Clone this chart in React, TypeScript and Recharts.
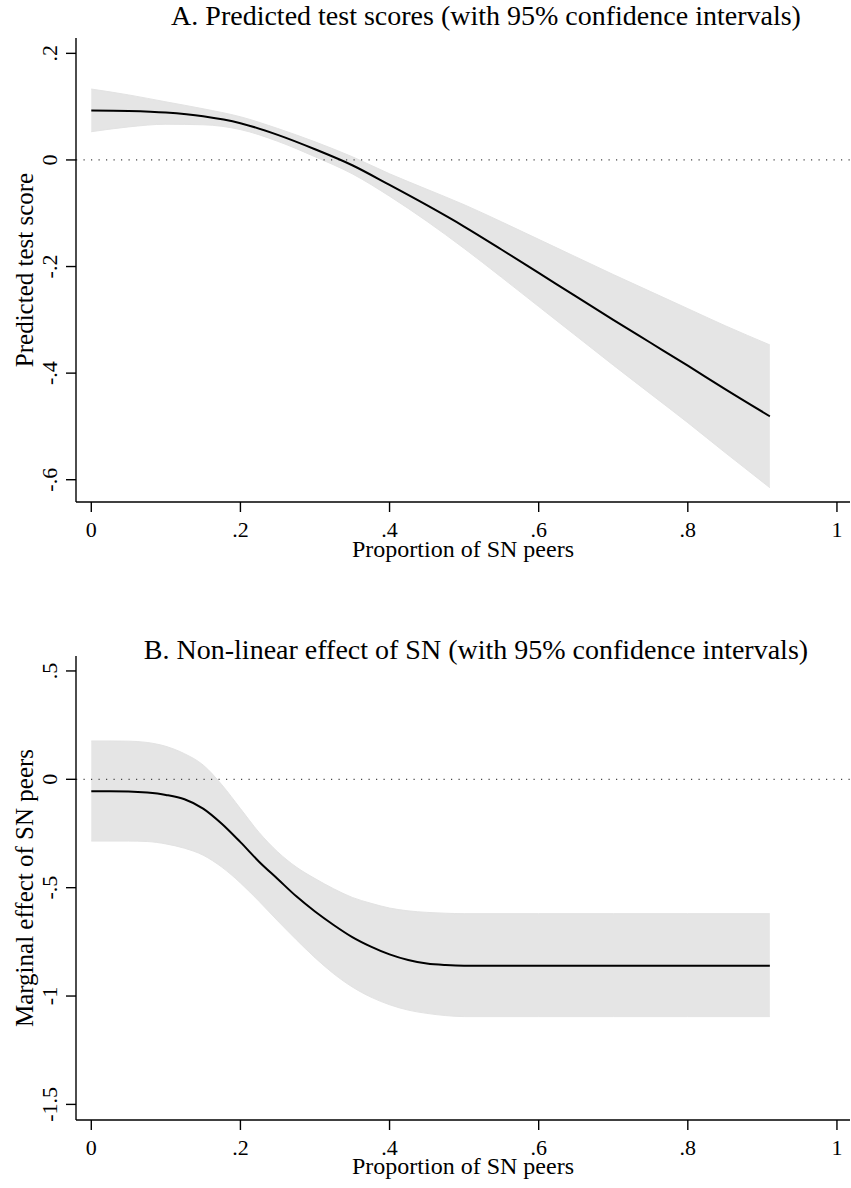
import React from "react";
import { ComposedChart, Area, Line, XAxis, YAxis, ReferenceLine, Label } from "recharts";

// Panel A: predicted test scores
const xA = [0, 0.05, 0.1, 0.15, 0.2, 0.25, 0.3, 0.35, 0.4, 0.45, 0.5, 0.55, 0.6, 0.65, 0.7, 0.75, 0.8, 0.85, 0.91];
const fitA = [0.093, 0.092, 0.089, 0.082, 0.069, 0.047, 0.02, -0.01, -0.047, -0.085, -0.125, -0.168, -0.212, -0.256, -0.3, -0.343, -0.386, -0.43, -0.481];
const upperA = [0.133, 0.122, 0.109, 0.096, 0.081, 0.059, 0.034, 0.006, -0.026, -0.055, -0.084, -0.116, -0.149, -0.182, -0.215, -0.247, -0.279, -0.311, -0.347];
const lowerA = [0.053, 0.062, 0.067, 0.066, 0.057, 0.035, 0.006, -0.026, -0.068, -0.115, -0.166, -0.22, -0.275, -0.33, -0.385, -0.439, -0.493, -0.549, -0.615];

// Panel B: marginal effect
const xB = [0, 0.025, 0.05, 0.075, 0.1, 0.125, 0.15, 0.175, 0.2, 0.225, 0.25, 0.275, 0.3, 0.325, 0.35, 0.375, 0.4, 0.425, 0.45, 0.475, 0.5, 0.6, 0.7, 0.8, 0.91];
const fitB = [-0.055, -0.055, -0.056, -0.061, -0.072, -0.092, -0.135, -0.205, -0.29, -0.38, -0.46, -0.54, -0.61, -0.672, -0.728, -0.772, -0.808, -0.834, -0.85, -0.857, -0.86, -0.86, -0.86, -0.86, -0.86];
const upperB = [0.177, 0.177, 0.176, 0.17, 0.152, 0.118, 0.066, -0.025, -0.135, -0.245, -0.335, -0.405, -0.458, -0.505, -0.545, -0.572, -0.594, -0.607, -0.614, -0.618, -0.62, -0.62, -0.62, -0.62, -0.62];
const lowerB = [-0.285, -0.285, -0.285, -0.287, -0.298, -0.318, -0.35, -0.405, -0.478, -0.563, -0.653, -0.74, -0.823, -0.897, -0.958, -1.005, -1.04, -1.065, -1.08, -1.09, -1.095, -1.095, -1.095, -1.095, -1.095];

const xTicks = [0, 0.2, 0.4, 0.6, 0.8, 1];
const yTicksA = [-0.6, -0.4, -0.2, 0, 0.2];
const yTicksB = [-1.5, -1, -0.5, 0, 0.5];

const titleA = "A. Predicted test scores (with 95% confidence intervals)";
const titleB = "B. Non-linear effect of SN (with 95% confidence intervals)";
const xTitle = "Proportion of SN peers";
const yTitleA = "Predicted test score";
const yTitleB = "Marginal effect of SN peers";

const dataA = xA.map((x, i) => ({ x, fit: fitA[i], ci: [lowerA[i], upperA[i]] }));
const dataB = xB.map((x, i) => ({ x, fit: fitB[i], ci: [lowerB[i], upperB[i]] }));

const FONT = "'Liberation Serif', 'Times New Roman', serif";
const TICK_FS = 22;
const XT_FS = 24;
const YT_FS = 25;
const TITLE_FS = 28;

const fmt = (v: number) => {
  if (v === 0) return "0";
  const s = String(Math.round(v * 100) / 100);
  return s.replace(/^(-?)0\./, "$1.");
};

const XTick = (props: any) => {
  const { x, y, payload } = props;
  return (
    <text x={x} y={y + 23} textAnchor="middle" fontFamily={FONT} fontSize={TICK_FS} fill="#000">
      {fmt(payload.value)}
    </text>
  );
};

const YTick = (props: any) => {
  const { x, y, payload } = props;
  return (
    <text transform={`translate(${x - 7},${y}) rotate(-90)`} textAnchor="middle" fontFamily={FONT} fontSize={TICK_FS} fill="#000">
      {fmt(payload.value)}
    </text>
  );
};

const XTitle = (offset: number) => (props: any) => {
  const vb = props.viewBox;
  return (
    <text x={vb.x + vb.width / 2} y={vb.y + offset} textAnchor="middle" fontFamily={FONT} fontSize={XT_FS} fill="#000">
      {xTitle}
    </text>
  );
};

const YTitle = (txt: string) => (props: any) => {
  const vb = props.viewBox;
  return (
    <text transform={`translate(33,${vb.y + vb.height / 2}) rotate(-90)`} textAnchor="middle" fontFamily={FONT} fontSize={YT_FS} fill="#000">
      {txt}
    </text>
  );
};

type PanelProps = {
  data: any[];
  yDomain: [number, number];
  yTicks: number[];
  top: number;
  marginTop: number;
  xAxisHeight: number;
  xTitleOffset: number;
  yTitle: string;
  title: string;
  titleX: number;
  titleY: number;
};

const Panel = (p: PanelProps) => (
  <ComposedChart
    width={851}
    height={594}
    data={p.data}
    margin={{ top: p.marginTop, right: 1, left: 0, bottom: 0 }}
    style={{ position: "absolute", left: 0, top: p.top }}
  >
    <XAxis
      dataKey="x"
      type="number"
      domain={[-0.0205, 1.0175]}
      ticks={xTicks}
      allowDataOverflow
      height={p.xAxisHeight}
      tickSize={10}
      tickMargin={2}
      tick={<XTick />}
      axisLine={{ stroke: "#000", strokeWidth: 1.4 }}
      tickLine={{ stroke: "#000", strokeWidth: 1.4 }}
      interval={0}
    >
      <Label content={XTitle(p.xTitleOffset)} />
    </XAxis>
    <YAxis
      type="number"
      domain={p.yDomain}
      ticks={p.yTicks}
      allowDataOverflow
      width={76}
      tickSize={10}
      tickMargin={2}
      tick={<YTick />}
      axisLine={{ stroke: "#000", strokeWidth: 1.4 }}
      tickLine={{ stroke: "#000", strokeWidth: 1.4 }}
      interval={0}
    >
      <Label content={YTitle(p.yTitle)} />
    </YAxis>
    <ReferenceLine
      y={0}
      segment={[{ x: -0.011, y: 0 }, { x: 1.013, y: 0 }]}
      stroke="#444"
      strokeWidth={1.2}
      strokeDasharray="1.2 6.3"
    />
    <Area
      type="monotone"
      dataKey="ci"
      stroke="#e3e3e3"
      strokeWidth={1}
      fill="#e5e5e5"
      fillOpacity={1}
      isAnimationActive={false}
      dot={false}
      activeDot={false}
    />
    <Line
      type="monotone"
      dataKey="fit"
      stroke="#000"
      strokeWidth={2}
      dot={false}
      activeDot={false}
      isAnimationActive={false}
    />
    <text x={p.titleX} y={p.titleY} textAnchor="middle" fontFamily={FONT} fontSize={TITLE_FS} fill="#000">
      {p.title}
    </text>
  </ComposedChart>
);

export default function App() {
  return (
    <div style={{ position: "absolute", left: 0, top: 0, width: 851, height: 1188, background: "#fff" }}>
      <Panel
        data={dataA}
        yDomain={[-0.6418, 0.2288]}
        yTicks={yTicksA}
        top={0}
        marginTop={38}
        xAxisHeight={92}
        xTitleOffset={55}
        yTitle={yTitleA}
        title={titleA}
        titleX={486}
        titleY={25}
      />
      <Panel
        data={dataB}
        yDomain={[-1.572, 0.569]}
        yTicks={yTicksB}
        top={594}
        marginTop={62}
        xAxisHeight={68}
        xTitleOffset={54}
        yTitle={yTitleB}
        title={titleB}
        titleX={476}
        titleY={65}
      />
    </div>
  );
}
